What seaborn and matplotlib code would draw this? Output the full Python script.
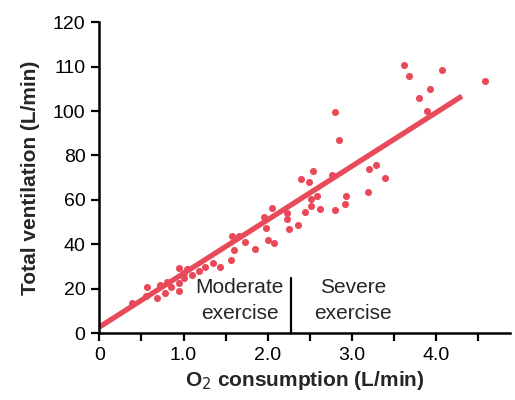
import matplotlib
matplotlib.use("Agg")
import matplotlib.pyplot as plt
import seaborn as sns
import pandas as pd

# O2 consumption (L/min) and total ventilation (plotted on the axis' linear grid)
o2 = [0.39, 0.55, 0.57, 0.68, 0.72, 0.78, 0.80, 0.85, 0.95, 0.95, 0.95, 1.01, 1.04, 1.00,
      1.10, 1.19, 1.26, 1.35, 1.43, 1.56, 1.60, 1.58, 1.66, 1.73, 1.85,
      1.96, 1.98, 2.00, 2.07, 2.05, 2.23, 2.23, 2.25, 2.36, 2.44, 2.40, 2.49, 2.51, 2.52,
      2.54, 2.59, 2.62, 2.76, 2.80, 2.80, 2.85, 2.92, 2.93, 3.19, 3.20, 3.29, 3.39,
      3.62, 3.68, 3.80, 3.90, 3.93, 4.07, 4.58]
vent = [13.7, 16.8, 20.5, 15.9, 21.5, 18.2, 22.9, 20.8, 29.5, 22.7, 18.7, 25.0, 29.0, 27.2,
        26.2, 28.0, 29.8, 31.5, 29.7, 33.0, 37.4, 43.7, 43.9, 41.1, 37.9,
        52.1, 47.3, 42.0, 40.5, 56.3, 54.0, 51.3, 46.8, 48.8, 54.7, 69.4, 68.2, 60.2, 57.0,
        73.0, 61.9, 55.7, 71.0, 55.6, 99.7, 87.0, 58.1, 61.7, 63.4, 74.0, 75.9, 70.0,
        120.6, 115.8, 106.0, 100.0, 109.9, 118.3, 113.5]

fit_x = [0.0, 4.31]
fit_y = [2.7, 106.7]

divider_x = 2.28
divider_top = 25

x_ticks = [0, 0.5, 1.0, 1.5, 2.0, 2.5, 3.0, 3.5, 4.0, 4.5]
x_tick_labels = ["0", "", "1.0", "", "2.0", "", "3.0", "", "4.0", ""]
y_ticks = [0, 20, 40, 60, 80, 100, 120, 140]
y_tick_labels = ["0", "20", "40", "60", "80", "100", "110", "120"]

red = "#E84A5A"

sns.set_style("white")
plt.rcParams["font.family"] = ["Liberation Sans", "DejaVu Sans"]

fig = plt.figure(figsize=(5.15, 4.0), dpi=100)
ax = fig.add_axes([0.193, 0.1675, 0.797, 0.777])

df = pd.DataFrame({"o2": o2, "vent": vent})
sns.scatterplot(data=df, x="o2", y="vent", ax=ax, color=red, s=26, linewidth=0, zorder=3)
sns.lineplot(x=fit_x, y=fit_y, ax=ax, color=red, linewidth=3.8, zorder=2,
             solid_capstyle="butt")

ax.plot([divider_x, divider_x], [0, divider_top], color="black", linewidth=1.6, zorder=4)
fs_ann = 15
ax.text(1.67, 20.3, "Moderate", ha="center", va="center", fontsize=fs_ann)
ax.text(1.67, 8.8, "exercise", ha="center", va="center", fontsize=fs_ann)
ax.text(3.02, 20.3, "Severe", ha="center", va="center", fontsize=fs_ann)
ax.text(3.02, 8.8, "exercise", ha="center", va="center", fontsize=fs_ann)

ax.set_xlim(0, 4.88)
ax.set_ylim(0, 140)
ax.set_xticks(x_ticks)
ax.set_xticklabels(x_tick_labels)
ax.set_yticks(y_ticks)
ax.set_yticklabels(y_tick_labels)
ax.tick_params(axis="both", direction="out", length=6, width=1.6, labelsize=14,
               colors="black", pad=4, left=True, bottom=True)

for side in ["top", "right"]:
    ax.spines[side].set_visible(False)
for side in ["left", "bottom"]:
    ax.spines[side].set_color("black")
    ax.spines[side].set_linewidth(1.8)

ax.set_xlabel("O$_2$ consumption (L/min)", fontsize=15, fontweight="bold", labelpad=4)
ax.set_ylabel("Total ventilation (L/min)", fontsize=15, fontweight="bold", labelpad=9)

fig.savefig("out.png", dpi=100)
